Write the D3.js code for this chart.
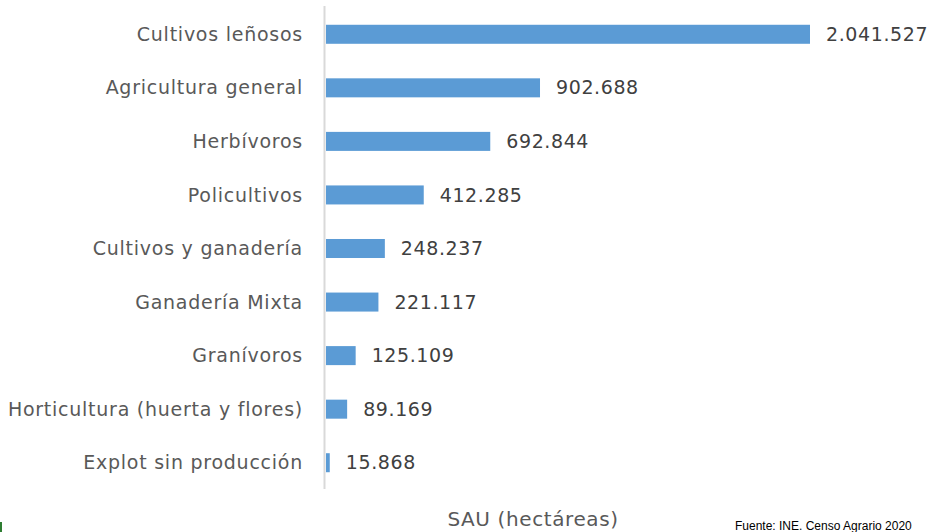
<!DOCTYPE html>
<html><head><meta charset="utf-8">
<script src="https://cdn.jsdelivr.net/npm/d3@7"></script>
<style>html,body{margin:0;padding:0;background:#fff;overflow:hidden}</style>
</head><body>
<svg id="c" width="930" height="532"></svg>
<script>
const categories = ["Cultivos leñosos","Agricultura general","Herbívoros","Policultivos","Cultivos y ganadería","Ganadería Mixta","Granívoros","Horticultura (huerta y flores)","Explot sin producción"];
const values = [2041527, 902688, 692844, 412285, 248237, 221117, 125109, 89169, 15868];
const axisTitle = "SAU (hectáreas)";
const sourceText = "Fuente: INE. Censo Agrario 2020";

const svg = d3.select("#c");
const font = "'DejaVu Sans', Verdana, sans-serif";
const x0 = 326;
const x = d3.scaleLinear().domain([0, 2041527]).range([x0, 810]);
const y = d3.scaleBand().domain(categories).range([7.5, 489.5]).paddingInner(0.645).paddingOuter(0.3225);

svg.append("line").attr("x1", 324.5).attr("x2", 324.5).attr("y1", 6).attr("y2", 489)
  .attr("stroke", "#d9d9d9").attr("stroke-width", 2);

svg.selectAll("rect.bar").data(categories).join("rect").attr("class","bar")
  .attr("x", x0).attr("y", d => y(d)).attr("height", y.bandwidth())
  .attr("width", (d,i) => x(values[i]) - x0).attr("fill", "#5b9bd5");

const fmt = v => d3.format(",")(v).replace(/,/g, ".");

svg.selectAll("text.cat").data(categories).join("text").attr("class","cat")
  .attr("x", 303).attr("y", d => y(d) + y.bandwidth()/2).attr("dy","0.35em")
  .attr("text-anchor","end").attr("font-family", font).attr("font-size", 19)
  .attr("letter-spacing", 0.75)
  .attr("fill", "#595959").text(d => d);

svg.selectAll("text.val").data(categories).join("text").attr("class","val")
  .attr("x", (d,i) => x(values[i]) + 16).attr("y", d => y(d) + y.bandwidth()/2).attr("dy","0.35em")
  .attr("font-family", font).attr("font-size", 19).attr("letter-spacing", 0.6).attr("fill", "#404040")
  .text((d,i) => fmt(values[i]));

svg.append("text").attr("x", 533).attr("y", 526).attr("text-anchor","middle")
  .attr("font-family", font).attr("font-size", 20).attr("letter-spacing", 0.6).attr("fill", "#595959").text(axisTitle);

svg.append("text").attr("x", 735).attr("y", 530)
  .attr("font-family", "'Liberation Sans', Arial, sans-serif").attr("font-size", 12).attr("fill", "#000").text(sourceText);

svg.append("rect").attr("x", 0).attr("y", 522).attr("width", 2).attr("height", 10).attr("fill", "#2e7d32");
</script>
</body></html>
